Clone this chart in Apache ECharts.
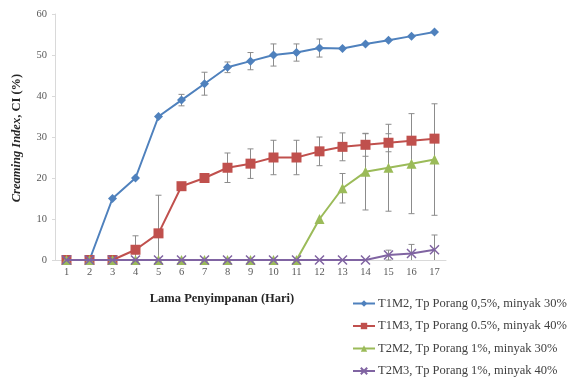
<!DOCTYPE html>
<html>
<head>
<meta charset="utf-8">
<script src="https://cdn.jsdelivr.net/npm/echarts@6/dist/echarts.min.js"></script>
<style>
  html, body { margin: 0; padding: 0; background: #fff; }
  #chart { width: 569px; height: 378px; }
</style>
</head>
<body>
<div id="chart"></div>
<script>
const days = ['1','2','3','4','5','6','7','8','9','10','11','12','13','14','15','16','17'];
const yTicks = [0, 10, 20, 30, 40, 50, 60];

const names = [
    'T1M2, Tp Porang 0,5%, minyak 30%',
    'T1M3, Tp Porang 0.5%, minyak 40%',
    'T2M2, Tp Porang 1%, minyak 30%',
    'T2M3, Tp Porang 1%, minyak 40%'
];

const t1m2 = [0, 0, 15, 20, 35, 39, 43, 47, 48.5, 50, 50.6, 51.7, 51.6, 52.7, 53.6, 54.6, 55.6];
const t1m2Err = [0, 0, 0, 0, 0, 1.4, 2.8, 1.3, 2.1, 2.7, 2.1, 2.2, 0, 0, 0, 0, 0];

const t1m3 = [0, 0, 0, 2.5, 6.5, 18, 20, 22.5, 23.5, 25, 25, 26.5, 27.6, 28.1, 28.6, 29.1, 29.6];
const t1m3Err = [0, 0, 0, 3.4, 9.3, 0, 0, 3.6, 3.6, 4.2, 4.2, 3.5, 3.4, 2.8, 2.2, 0, 0];

const t2m2 = [0, 0, 0, 0, 0, 0, 0, 0, 0, 0, 0, 10, 17.5, 21.5, 22.5, 23.5, 24.5];
const t2m2Err = [0, 0, 0, 0, 0, 0, 0, 0, 0, 0, 0, 0, 3.6, 9.3, 10.6, 12.2, 13.6];

const t2m3 = [0, 0, 0, 0, 0, 0, 0, 0, 0, 0, 0, 0, 0, 0, 1.2, 1.6, 2.5];
const t2m3Err = [0, 0, 0, 0, 0, 0, 0, 0, 0, 0, 0, 0, 0, 0, 1.2, 2.2, 3.6];

const colors = ['#4F81BD', '#C0504D', '#9BBB59', '#8064A2'];
const symbols = ['diamond', 'rect', 'triangle', 'path://M0,0L10,10M10,0L0,10'];
const symbolSizes = [9, 10, 10, 9];
const font = 'Liberation Serif';

function errData(vals, errs) {
    const out = [];
    for (let i = 0; i < vals.length; i++) {
        if (errs[i] > 0) out.push([i, vals[i] - errs[i], vals[i] + errs[i]]);
    }
    return out;
}

function renderErr(params, api) {
    const cs = params.coordSys;
    const x = api.coord([api.value(0), 0])[0];
    let yLo = api.coord([api.value(0), api.value(1)])[1];
    let yHi = api.coord([api.value(0), api.value(2)])[1];
    const bottom = cs.y + cs.height;
    const clipped = yLo > bottom;
    if (clipped) yLo = bottom;
    const st = { stroke: '#8c8c8c', lineWidth: 1 };
    const kids = [
        { type: 'line', shape: { x1: x, y1: yLo, x2: x, y2: yHi }, style: st },
        { type: 'line', shape: { x1: x - 3, y1: yHi, x2: x + 3, y2: yHi }, style: st }
    ];
    if (!clipped) {
        kids.push({ type: 'line', shape: { x1: x - 3, y1: yLo, x2: x + 3, y2: yLo }, style: st });
    }
    return { type: 'group', children: kids };
}

const allVals = [t1m2, t1m3, t2m2, t2m3];
const allErrs = [t1m2Err, t1m3Err, t2m2Err, t2m3Err];

const series = [];
allVals.forEach((vals, k) => {
    series.push({
        type: 'custom',
        name: names[k] + ' err',
        renderItem: renderErr,
        data: errData(vals, allErrs[k]),
        z: 1,
        silent: true
    });
});
allVals.forEach((vals, k) => {
    series.push({
        type: 'line',
        name: names[k],
        data: vals,
        symbol: symbols[k],
        symbolSize: symbolSizes[k],
        showAllSymbol: true,
        lineStyle: { color: colors[k], width: 2 },
        itemStyle: {
            color: colors[k],
            borderColor: colors[k],
            borderWidth: k === 3 ? 1.5 : 0
        },
        z: 2 + k
    });
});

const chart = echarts.init(document.getElementById('chart'));
chart.setOption({
    animation: false,
    color: colors,
    grid: { left: 55, right: 123, top: 14, bottom: 118 },
    xAxis: {
        type: 'category',
        data: days,
        boundaryGap: true,
        axisLine: { lineStyle: { color: '#d9d9d9', width: 1 } },
        axisTick: { show: false },
        axisLabel: { fontFamily: font, fontSize: 10.5, color: '#595959', margin: 7 }
    },
    yAxis: {
        type: 'value',
        min: yTicks[0],
        max: yTicks[yTicks.length - 1],
        interval: 10,
        splitLine: { show: false },
        axisLine: { show: true, lineStyle: { color: '#d9d9d9', width: 1 } },
        axisTick: { show: true, length: 3, lineStyle: { color: '#d9d9d9' } },
        axisLabel: { fontFamily: font, fontSize: 10.5, color: '#595959', margin: 8 }
    },
    legend: {
        type: 'plain',
        orient: 'vertical',
        left: 352,
        top: 297,
        padding: 0,
        itemGap: 9.5,
        itemWidth: 22,
        itemHeight: 8,
        data: names,
        textStyle: { fontFamily: font, fontSize: 12.5, color: '#404040', padding: [0, 0, 0, -2] }
    },
    graphic: [
        {
            type: 'text',
            x: 17,
            y: 138,
            rotation: Math.PI / 2,
            style: {
                text: '{i|Creaming Index}{b|, CI (%)}',
                align: 'center',
                verticalAlign: 'middle',
                rich: {
                    i: { fontFamily: font, fontSize: 12.5, fontWeight: 'bold', fontStyle: 'italic', fill: '#262626' },
                    b: { fontFamily: font, fontSize: 12.5, fontWeight: 'bold', fill: '#262626' }
                }
            }
        },
        {
            type: 'text',
            x: 222,
            y: 299,
            style: {
                text: 'Lama Penyimpanan (Hari)',
                align: 'center',
                verticalAlign: 'middle',
                fontFamily: font,
                fontSize: 12.5,
                fontWeight: 'bold',
                fill: '#262626'
            }
        }
    ],
    series: series
});
</script>
</body>
</html>
